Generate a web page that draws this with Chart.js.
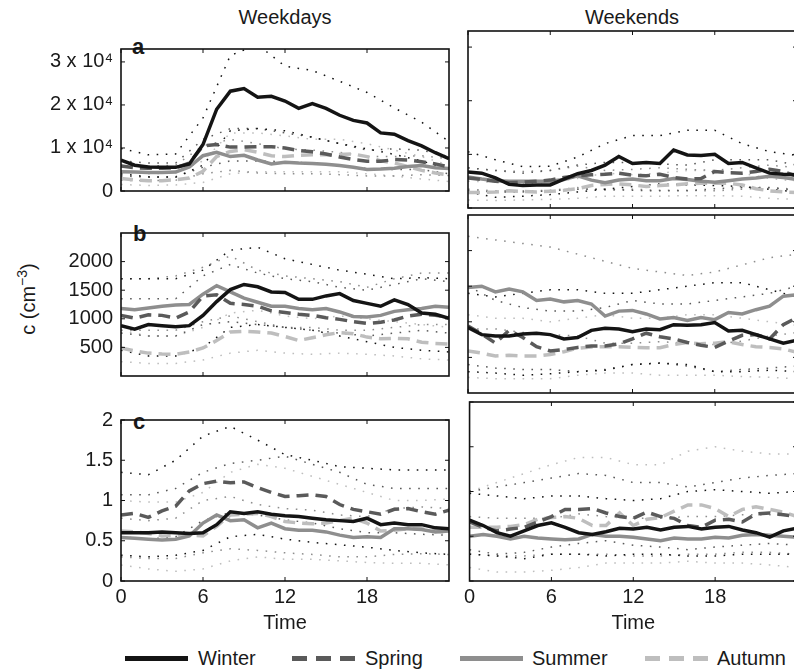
<!DOCTYPE html>
<html lang="en">
<head>
<meta charset="UTF-8">
<title>Seasonal diurnal cycles</title>
<script src="https://cdn.jsdelivr.net/npm/chart.js"></script>
<style>
  html, body { margin: 0; padding: 0; background: #fff; }
  #fig { position: relative; width: 794px; height: 670px; overflow: hidden;
         font-family: "Liberation Sans", Arial, Helvetica, sans-serif; color: #1a1a1a; }
  #fig canvas { position: absolute; }
  .lbl { position: absolute; font-size: 20px; line-height: 24px; white-space: nowrap; transform: translate(-50%, -50%); }
  .ytitle { position: absolute; font-size: 20px; line-height: 24px; white-space: nowrap; transform: translate(-50%, -50%) rotate(-90deg); }
  .ytitle sup { font-size: 14px; line-height: 0; }
  .leg { position: absolute; font-size: 20px; line-height: 24px; white-space: nowrap; transform: translateY(-50%); }
  .letter { position: absolute; font-size: 22px; line-height: 22px; font-weight: bold; }
  .swatch { position: absolute; height: 5px; }
</style>
</head>
<body>
<div id="fig">
  <div class="lbl" style="left:285px; top:17px;">Weekdays</div>
  <div class="lbl" style="left:632px; top:17px;">Weekends</div>
  <div class="ytitle" style="left:28px; top:299px;">c (cm<sup>−3</sup>)</div>
  <div class="letter" style="left:132px; top:36px;">a</div>
  <div class="letter" style="left:133px; top:223px;">b</div>
  <div class="letter" style="left:133px; top:411px;">c</div>

  <div class="swatch" style="left:125px; top:656px; width:63px; background:#141414;"></div>
  <div class="leg" style="left:198px; top:658px;">Winter</div>
  <div class="swatch" style="left:292px; top:656px; width:63px; background:repeating-linear-gradient(to right, #5a5a5a 0 15px, transparent 15px 24px);"></div>
  <div class="leg" style="left:365px; top:658px;">Spring</div>
  <div class="swatch" style="left:460px; top:656px; width:63px; background:#8e8e8e;"></div>
  <div class="leg" style="left:532px; top:658px;">Summer</div>
  <div class="swatch" style="left:645px; top:656px; width:63px; background:repeating-linear-gradient(to right, #bebebe 0 15px, transparent 15px 24px);"></div>
  <div class="leg" style="left:717px; top:658px;">Autumn</div>
</div>

<script>
// x positions (hour of day)
const hours = [0,1,2,3,4,5,6,7,8,9,10,11,12,13,14,15,16,17,18,19,20,21,22,23,24];
const bandHours = [0,2,4,6,8,10,12,14,16,18,20,22,24];
const hourTicks = [0, 6, 12, 18];

const seasons = ['Winter', 'Spring', 'Summer', 'Autumn'];

// tick labels
const aTickValues = [0, 10000, 20000, 30000];
const aTickLabels = ['0', '1 x 10⁴', '2 x 10⁴', '3 x 10⁴'];
const bTickValues = [500, 1000, 1500, 2000];
const bTickLabels = ['500', '1000', '1500', '2000'];
const cTickValues = [0, 0.5, 1, 1.5, 2];
const cTickLabels = ['0', '0.5', '1', '1.5', '2'];

// panel a, medians
const aWeekdayWinter = [7200,6000,5600,5500,5500,6300,10800,19000,23200,23800,21800,22000,20900,19200,20300,19200,17600,16400,15800,13500,13200,11700,10500,8900,7500];
const aWeekdaySpring = [5800,5400,5300,5300,5400,6500,10500,10800,10200,10200,10300,10300,10000,9400,9100,8600,7900,7300,6900,6900,7300,7200,6800,6300,5600];
const aWeekdaySummer = [4500,4400,4300,4300,4400,5600,8200,9000,8000,8300,7200,6300,6700,6500,6400,6200,5900,5500,5000,5100,5300,5700,5900,5400,5200];
const aWeekdayAutumn = [2900,2600,2400,2400,2600,3000,4600,8000,9200,9600,9000,8200,8000,8300,8400,8400,8500,8600,8000,7000,6500,5700,4800,4200,3700];
const aWeekendWinter = [6700,6500,5600,4400,4200,4300,4300,5400,6400,7000,8000,9600,8300,8500,8300,10800,9900,9800,10000,8300,8500,7500,6500,6300,6200];
const aWeekendSpring = [5600,5300,5000,4700,4800,5000,5200,5700,6000,6200,6300,6500,6100,6000,6300,5700,5400,5500,6800,6600,6500,6800,7200,6800,5900];
const aWeekendSummer = [5800,5400,5100,5000,5000,5000,5000,5300,6000,5200,4700,5200,5400,5100,5100,5500,5300,5000,4800,5100,5400,5600,5900,5700,5300];
const aWeekendAutumn = [2900,2900,3000,3200,3100,3000,3100,3300,3600,4200,4400,4500,4300,4000,4200,4300,4500,4600,4600,4600,4300,3600,3200,3000,2900];

// panel a, percentile bands (every 2 h)
const aWeekdayWinterHi = [9900,8400,8600,17000,31500,34000,29000,28000,25500,22900,19300,16000,11500];
const aWeekdayWinterLo = [4000,3300,3200,6000,14000,14500,14000,12500,11000,9800,8500,7000,5000];
const aWeekdaySpringHi = [7000,6500,6500,12000,14500,14500,13500,12500,11000,9500,9800,9500,8000];
const aWeekdaySpringLo = [3500,3200,3300,5500,7000,7000,6800,6500,5800,5200,5000,5000,4000];
const aWeekdaySummerHi = [6000,5800,6000,10500,12000,11000,9800,9500,9000,8000,8000,8200,7500];
const aWeekdaySummerLo = [2500,2400,2500,4000,4800,4200,4000,4000,3800,3500,3500,3800,3600];
const aWeekdayAutumnHi = [4500,4000,4200,7000,13500,13500,12800,12000,12000,11000,9500,8000,6000];
const aWeekdayAutumnLo = [1500,1300,1400,2000,4000,4500,4500,4500,4500,4000,3500,2800,2200];
const aWeekendWinterHi = [10500,9000,7700,7800,9500,12000,13500,13500,14500,14500,12000,10500,9800];
const aWeekendWinterLo = [3000,2000,2200,2500,3000,3500,4000,4500,4300,4200,4000,3500,3000];
const aWeekendSpringHi = [7500,7000,6500,7000,8000,8500,8500,8200,8000,9000,9000,9000,8000];
const aWeekendSpringLo = [3200,3000,3000,3200,3500,3500,3300,3200,3200,3600,3800,3800,3300];
const aWeekendSummerHi = [7500,7000,6800,7000,7800,7000,7200,7500,7200,7000,7500,8000,7500];
const aWeekendSummerLo = [3500,3200,3200,3300,3800,3300,3500,3300,3300,3200,3500,3800,3500];
const aWeekendAutumnHi = [5000,4800,4500,4800,5500,6500,6200,6500,7000,7000,6500,5500,5000];
const aWeekendAutumnLo = [1500,1400,1500,1600,1800,2200,2200,2200,2300,2300,2200,1800,1600];

// panel b, medians
const bWeekdayWinter = [880,820,900,880,860,880,1060,1300,1510,1600,1560,1470,1460,1340,1340,1400,1440,1320,1270,1220,1330,1250,1100,1080,1010];
const bWeekdaySpring = [1060,1010,1070,1060,1010,1120,1400,1420,1270,1250,1220,1140,1110,1080,1060,1020,990,950,920,940,980,1050,1080,1060,1030];
const bWeekdaySummer = [1180,1160,1190,1220,1240,1250,1430,1580,1470,1360,1290,1220,1220,1180,1160,1180,1120,1040,1030,1060,1130,1160,1180,1220,1200];
const bWeekdayAutumn = [490,440,400,385,380,420,490,620,770,780,770,750,690,620,670,720,760,740,680,650,660,650,590,570,560];
const bWeekendWinter = [920,820,800,800,830,840,820,760,780,880,910,900,860,900,890,960,950,960,990,870,880,820,760,700,740];
const bWeekendSpring = [940,830,700,880,780,650,590,610,640,660,660,690,760,840,790,760,710,670,640,730,810,820,760,960,1060];
const bWeekendSummer = [1480,1500,1420,1460,1420,1300,1320,1280,1300,1250,1080,1150,1160,1110,1040,1060,1020,1060,1030,1130,1110,1170,1220,1360,1380];
const bWeekendAutumn = [590,560,520,530,520,520,540,580,630,645,650,650,640,635,635,680,710,690,700,720,680,650,640,620,570];

// panel b, percentile bands
const bWeekdayWinterHi = [1700,1700,1700,1850,2200,2250,2050,1950,1850,1780,1700,1720,1700];
const bWeekdayWinterLo = [450,350,350,500,850,900,850,800,700,600,500,450,420];
const bWeekdaySpringHi = [1350,1350,1350,1750,1950,1800,1700,1650,1550,1500,1600,1700,1650];
const bWeekdaySpringLo = [750,700,700,900,950,900,850,800,750,700,750,800,750];
const bWeekdaySummerHi = [1700,1700,1750,1900,2100,1850,1750,1700,1650,1550,1700,1800,1800];
const bWeekdaySummerLo = [800,800,800,950,1050,950,850,850,800,800,850,900,900];
const bWeekdayAutumnHi = [800,700,700,850,1100,1150,1050,1000,1050,1000,950,900,850];
const bWeekdayAutumnLo = [250,220,220,280,400,450,400,380,400,380,350,300,280];
const bWeekendWinterHi = [1400,1350,1400,1450,1450,1400,1400,1450,1500,1550,1550,1450,1350];
const bWeekendWinterLo = [300,280,250,270,300,320,400,420,400,300,300,320,300];
const bWeekendSpringHi = [1500,1300,1200,1150,1150,1200,1300,1250,1250,1300,1350,1400,1500];
const bWeekendSpringLo = [400,350,330,330,300,330,400,420,380,300,330,350,380];
const bWeekendSummerHi = [2200,2150,2100,2050,1950,1850,1750,1700,1650,1700,1800,1900,1950];
const bWeekendSummerLo = [900,900,850,820,800,700,700,720,700,680,730,800,850];
const bWeekendAutumnHi = [1100,1050,1050,1000,1050,1100,1050,1050,1100,1100,1050,1000,950];
const bWeekendAutumnLo = [220,200,200,200,250,280,280,250,250,250,230,220,200];

// panel c, medians
const cWeekdayWinter = [0.60,0.60,0.60,0.61,0.60,0.59,0.60,0.70,0.86,0.84,0.86,0.83,0.81,0.80,0.78,0.76,0.75,0.74,0.78,0.70,0.72,0.70,0.70,0.66,0.65];
const cWeekdaySpring = [0.82,0.84,0.79,0.87,0.93,1.12,1.21,1.24,1.22,1.23,1.16,1.10,1.05,1.06,1.07,1.05,0.95,0.89,0.86,0.83,0.89,0.90,0.86,0.83,0.88];
const cWeekdaySummer = [0.54,0.53,0.52,0.51,0.52,0.56,0.72,0.82,0.75,0.76,0.66,0.72,0.65,0.63,0.63,0.61,0.57,0.54,0.55,0.54,0.65,0.65,0.64,0.61,0.62];
const cWeekdayAutumn = [0.62,0.61,0.59,0.56,0.57,0.57,0.56,0.68,0.82,0.83,0.84,0.80,0.74,0.72,0.71,0.72,0.75,0.78,0.72,0.62,0.63,0.65,0.65,0.62,0.60];
const cWeekendWinter = [0.68,0.62,0.54,0.50,0.56,0.62,0.65,0.60,0.54,0.52,0.55,0.59,0.58,0.60,0.57,0.60,0.61,0.58,0.60,0.61,0.57,0.54,0.49,0.56,0.59];
const cWeekendSpring = [0.66,0.60,0.56,0.58,0.60,0.66,0.72,0.80,0.80,0.81,0.76,0.72,0.70,0.77,0.72,0.70,0.62,0.60,0.68,0.69,0.66,0.75,0.76,0.74,0.72];
const cWeekendSummer = [0.50,0.52,0.50,0.47,0.50,0.48,0.47,0.46,0.47,0.52,0.50,0.50,0.49,0.47,0.45,0.48,0.47,0.47,0.49,0.48,0.51,0.52,0.51,0.50,0.49];
const cWeekendAutumn = [0.60,0.60,0.60,0.61,0.63,0.69,0.71,0.72,0.70,0.62,0.62,0.76,0.62,0.69,0.71,0.78,0.85,0.85,0.81,0.72,0.80,0.83,0.80,0.77,0.72];

// panel c, percentile bands
const cWeekdayWinterHi = [1.35,1.32,1.50,1.80,1.92,1.75,1.57,1.50,1.42,1.40,1.38,1.38,1.38];
const cWeekdayWinterLo = [0.32,0.30,0.32,0.38,0.55,0.58,0.52,0.48,0.45,0.42,0.38,0.35,0.33];
const cWeekdaySpringHi = [1.07,1.07,1.15,1.35,1.46,1.50,1.55,1.45,1.35,1.20,1.15,1.15,1.15];
const cWeekdaySpringLo = [0.55,0.52,0.55,0.75,0.85,0.82,0.76,0.72,0.65,0.60,0.60,0.58,0.57];
const cWeekdaySummerHi = [0.78,0.75,0.78,1.00,1.05,0.95,0.90,0.88,0.82,0.80,0.90,0.92,0.90];
const cWeekdaySummerLo = [0.30,0.28,0.28,0.35,0.40,0.38,0.35,0.33,0.30,0.30,0.33,0.34,0.33];
const cWeekdayAutumnHi = [1.00,0.98,0.98,1.10,1.35,1.45,1.40,1.30,1.20,1.10,1.00,1.00,1.02];
const cWeekdayAutumnLo = [0.20,0.15,0.12,0.15,0.25,0.30,0.27,0.27,0.25,0.23,0.22,0.22,0.20];
const cWeekendWinterHi = [0.98,0.95,0.92,0.95,0.95,0.92,0.90,0.92,1.00,1.02,1.00,0.98,1.00];
const cWeekendWinterLo = [0.30,0.28,0.25,0.30,0.30,0.28,0.30,0.30,0.28,0.28,0.30,0.30,0.30];
const cWeekendSpringHi = [1.00,1.05,1.10,1.15,1.20,1.18,1.10,1.10,1.05,1.10,1.15,1.18,1.20];
const cWeekendSpringLo = [0.35,0.30,0.32,0.38,0.42,0.45,0.40,0.38,0.35,0.38,0.40,0.42,0.40];
const cWeekendSummerHi = [0.72,0.70,0.70,0.70,0.75,0.72,0.70,0.70,0.72,0.72,0.74,0.74,0.72];
const cWeekendSummerLo = [0.30,0.28,0.28,0.30,0.30,0.30,0.28,0.28,0.30,0.30,0.32,0.32,0.30];
const cWeekendAutumnHi = [1.00,1.10,1.20,1.30,1.38,1.38,1.30,1.30,1.45,1.50,1.45,1.42,1.42];
const cWeekendAutumnLo = [0.15,0.10,0.10,0.12,0.15,0.20,0.20,0.20,0.22,0.20,0.20,0.18,0.15];

// styling
const family = '"Liberation Sans", Arial, Helvetica, sans-serif';
const ink = '#1a1a1a';
const seasonColor = ['#141414', '#5a5a5a', '#8e8e8e', '#bebebe'];
const seasonDash = [[], [12, 7], [], [12, 7]];

const rows = [
  { top: 29, height: 182, axisHeight: 3 },
  { top: 213, height: 183, axisHeight: 3 },
  { top: 400, height: 240, axisHeight: 59 }
];
const cols = [
  { left: 0, width: 460, axisWidth: 121, padRight: 11 },
  { left: 460, width: 340, axisWidth: 8, padRight: 3 }
];

const panels = [
  { row: 0, col: 0, max: 33000, tv: aTickValues, tl: aTickLabels,
    medians: [aWeekdayWinter, aWeekdaySpring, aWeekdaySummer, aWeekdayAutumn],
    bands: [[aWeekdayWinterHi, aWeekdayWinterLo], [aWeekdaySpringHi, aWeekdaySpringLo], [aWeekdaySummerHi, aWeekdaySummerLo], [aWeekdayAutumnHi, aWeekdayAutumnLo]] },
  { row: 0, col: 1, max: 33000, tv: aTickValues, tl: aTickLabels,
    medians: [aWeekendWinter, aWeekendSpring, aWeekendSummer, aWeekendAutumn],
    bands: [[aWeekendWinterHi, aWeekendWinterLo], [aWeekendSpringHi, aWeekendSpringLo], [aWeekendSummerHi, aWeekendSummerLo], [aWeekendAutumnHi, aWeekendAutumnLo]] },
  { row: 1, col: 0, max: 2500, tv: bTickValues, tl: bTickLabels,
    medians: [bWeekdayWinter, bWeekdaySpring, bWeekdaySummer, bWeekdayAutumn],
    bands: [[bWeekdayWinterHi, bWeekdayWinterLo], [bWeekdaySpringHi, bWeekdaySpringLo], [bWeekdaySummerHi, bWeekdaySummerLo], [bWeekdayAutumnHi, bWeekdayAutumnLo]] },
  { row: 1, col: 1, max: 2500, tv: bTickValues, tl: bTickLabels,
    medians: [bWeekendWinter, bWeekendSpring, bWeekendSummer, bWeekendAutumn],
    bands: [[bWeekendWinterHi, bWeekendWinterLo], [bWeekendSpringHi, bWeekendSpringLo], [bWeekendSummerHi, bWeekendSummerLo], [bWeekendAutumnHi, bWeekendAutumnLo]] },
  { row: 2, col: 0, max: 2, tv: cTickValues, tl: cTickLabels,
    medians: [cWeekdayWinter, cWeekdaySpring, cWeekdaySummer, cWeekdayAutumn],
    bands: [[cWeekdayWinterHi, cWeekdayWinterLo], [cWeekdaySpringHi, cWeekdaySpringLo], [cWeekdaySummerHi, cWeekdaySummerLo], [cWeekdayAutumnHi, cWeekdayAutumnLo]] },
  { row: 2, col: 1, max: 2, tv: cTickValues, tl: cTickLabels,
    medians: [cWeekendWinter, cWeekendSpring, cWeekendSummer, cWeekendAutumn],
    bands: [[cWeekendWinterHi, cWeekendWinterLo], [cWeekendSpringHi, cWeekendSpringLo], [cWeekendSummerHi, cWeekendSummerLo], [cWeekendAutumnHi, cWeekendAutumnLo]] }
];

function pairs(xs, ys) {
  return ys.map((v, i) => ({ x: xs[i], y: v }));
}

// box frame with inward ticks on all four sides (matlab style)
const frameTicks = {
  id: 'frameTicks',
  afterDatasetsDraw(chart) {
    const { ctx, chartArea: { left, right, top, bottom }, scales: { x, y } } = chart;
    ctx.save();
    ctx.strokeStyle = '#111';
    ctx.lineWidth = 1;
    ctx.beginPath();
    x.ticks.forEach(t => {
      const px = x.getPixelForValue(t.value);
      ctx.moveTo(px, bottom); ctx.lineTo(px, bottom - 4);
      ctx.moveTo(px, top); ctx.lineTo(px, top + 4);
    });
    y.ticks.forEach(t => {
      const py = y.getPixelForValue(t.value);
      ctx.moveTo(left, py); ctx.lineTo(left + 4, py);
      ctx.moveTo(right, py); ctx.lineTo(right - 4, py);
    });
    ctx.stroke();
    ctx.lineWidth = 1.6;
    ctx.strokeRect(left, top, right - left, bottom - top);
    ctx.restore();
  }
};

const fig = document.getElementById('fig');

panels.forEach(p => {
  const r = rows[p.row], c = cols[p.col];
  const canvas = document.createElement('canvas');
  canvas.width = c.width;
  canvas.height = r.height;
  canvas.style.left = c.left + 'px';
  canvas.style.top = r.top + 'px';
  canvas.style.width = c.width + 'px';
  canvas.style.height = r.height + 'px';
  fig.appendChild(canvas);

  const datasets = [];
  p.medians.forEach((m, i) => datasets.push({
    label: seasons[i], data: pairs(hours, m),
    borderColor: seasonColor[i], borderDash: seasonDash[i], borderWidth: 3.5,
    borderCapStyle: 'butt', pointRadius: 0, tension: 0, fill: false
  }));
  p.bands.forEach((b, i) => b.forEach(q => datasets.push({
    label: seasons[i] + ' range', data: pairs(bandHours, q),
    borderColor: seasonColor[i], borderDash: [1.6, 7.5], borderWidth: 1.5,
    pointRadius: 0, tension: 0, fill: false
  })));

  const showX = p.row === 2;
  const showY = p.col === 0;

  new Chart(canvas, {
    type: 'line',
    data: { datasets },
    options: {
      responsive: false,
      animation: false,
      devicePixelRatio: 1,
      layout: { padding: { top: 2, right: c.padRight, left: 0, bottom: 0 } },
      plugins: { legend: { display: false }, tooltip: { enabled: false } },
      scales: {
        x: {
          type: 'linear', min: 0, max: 24,
          grid: { display: false, drawTicks: false },
          border: { display: false },
          afterBuildTicks: s => { s.ticks = hourTicks.map(v => ({ value: v })); },
          afterFit: s => { s.height = r.axisHeight; },
          ticks: { display: showX, padding: 4, autoSkip: false, maxRotation: 0,
                   color: ink, font: { family, size: 20 }, callback: v => String(v) },
          title: { display: showX, text: 'Time', color: ink, font: { family, size: 20 },
                   padding: { top: 0, bottom: 5 } }
        },
        y: {
          type: 'linear', min: 0, max: p.max,
          grid: { display: false, drawTicks: false },
          border: { display: false },
          afterBuildTicks: s => { s.ticks = p.tv.map(v => ({ value: v })); },
          afterFit: s => { s.width = c.axisWidth; },
          ticks: { display: showY, padding: 8, autoSkip: false, color: ink,
                   font: { family, size: 20 }, callback: v => p.tl[p.tv.indexOf(v)] }
        }
      }
    },
    plugins: [frameTicks]
  });
});
</script>
</body>
</html>
